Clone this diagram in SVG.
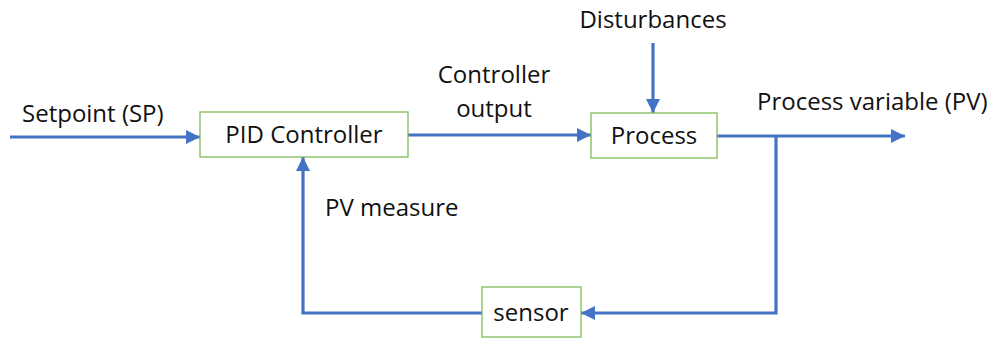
<svg xmlns="http://www.w3.org/2000/svg" width="998" height="338" viewBox="0 0 998 338">
<defs>
<style>
.box{fill:#fff;stroke:#7dbb57;stroke-width:1.3}
.t{font-family:"Open Sans","Noto Sans",sans-serif;font-size:24px;fill:#111}
.c{fill:none;stroke:#4472c4;stroke-width:3.2}
</style>
<marker id="ah" viewBox="0 0 10 10" refX="10" refY="5" markerWidth="4.4" markerHeight="4.4" markerUnits="strokeWidth" orient="auto">
<path d="M0,0 L10,5 L0,10 z" fill="#4472c4"/>
</marker>
</defs>
<g id="connectors">
<path class="c" d="M10,137 H200" marker-end="url(#ah)"/>
<path class="c" d="M408,135 H591" marker-end="url(#ah)"/>
<path class="c" d="M653,43 V113" marker-end="url(#ah)"/>
<path class="c" d="M717,136 H905" marker-end="url(#ah)"/>
<path class="c" d="M776,136 V313 H581" marker-end="url(#ah)"/>
<path class="c" d="M482,313 H303 V157" marker-end="url(#ah)"/>
</g>
<g id="pid"><rect class="box" x="200" y="112" width="208" height="45"/><text class="t" x="304" y="143" text-anchor="middle">PID Controller</text></g>
<g id="process"><rect class="box" x="591" y="113" width="126" height="45"/><text class="t" x="654" y="144" text-anchor="middle">Process</text></g>
<g id="sensor"><rect class="box" x="482" y="287" width="99" height="50"/><text class="t" x="531" y="321" text-anchor="middle">sensor</text></g>
<g id="labels">
<text class="t" x="22" y="122">Setpoint (SP)</text>
<text class="t" x="494" y="83" text-anchor="middle">Controller</text>
<text class="t" x="494" y="117" text-anchor="middle">output</text>
<text class="t" x="653" y="28" text-anchor="middle">Disturbances</text>
<text class="t" x="757" y="110">Process variable (PV)</text>
<text class="t" x="325" y="216">PV measure</text>
</g>
</svg>
